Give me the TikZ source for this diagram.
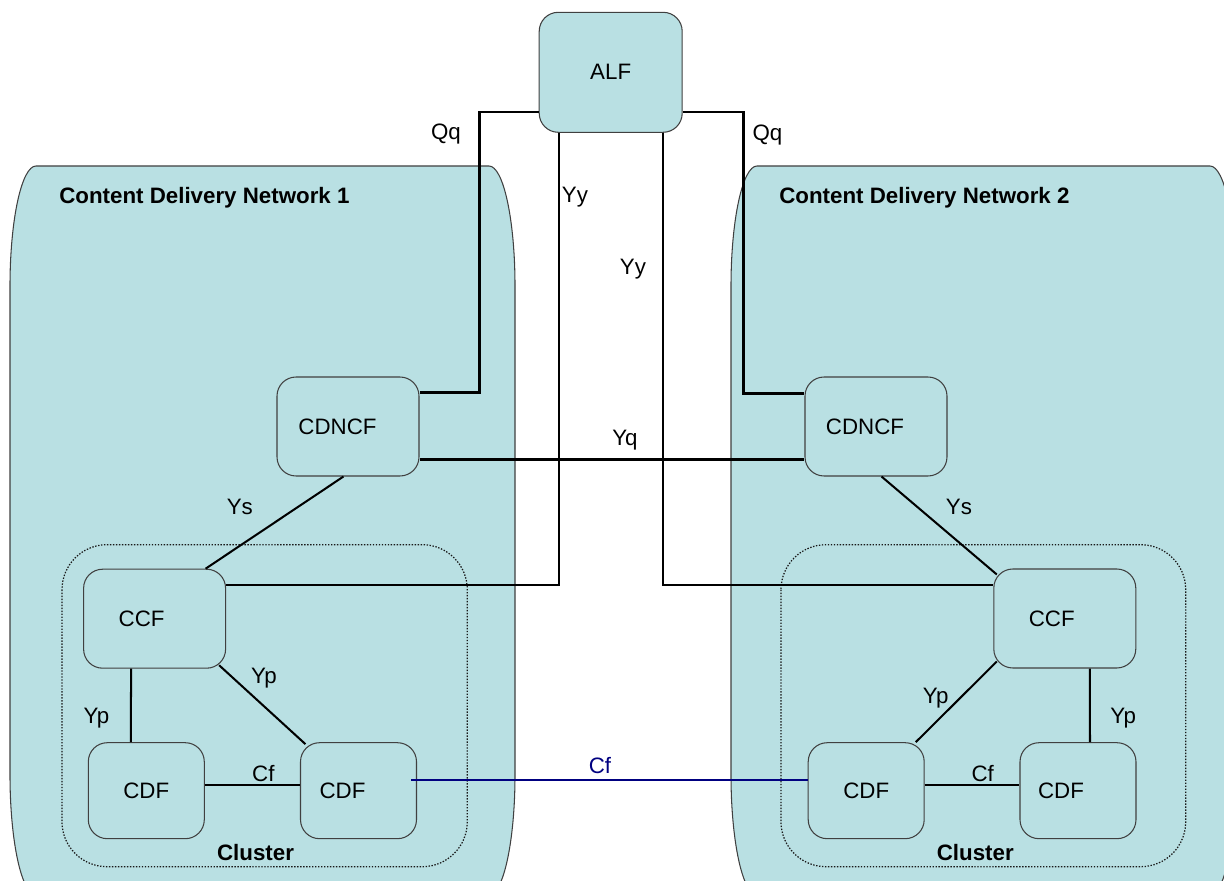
\documentclass[tikz,border=0pt]{standalone}
\usepackage{fontspec}
\setmainfont{Liberation Sans}
\definecolor{netfill}{RGB}{185,224,227}
\definecolor{cfblue}{RGB}{0,0,128}
\begin{document}
\begin{tikzpicture}[x=0.02cm,y=-0.02cm,
  every node/.style={font=\fontsize{12.7}{15}\selectfont},
  fn node/.style={draw=black!75,fill=netfill,rounded corners=0.38cm,line width=0.6pt,inner sep=0pt},
  ctrl node/.style={fn node,minimum width=2.84cm,minimum height=1.98cm},
  cdf node/.style={fn node,minimum width=2.32cm,minimum height=1.92cm},
  title node/.style={font=\fontsize{12.7}{15}\selectfont\bfseries,anchor=west,inner xsep=0pt},
  net/.style={draw=black!75,fill=netfill,line width=0.6pt},
  cluster/.style={draw=black!90,line width=0.7pt,dash pattern=on 0.8pt off 0.9pt,rounded corners=0.9cm},
  link/.style={line width=1.15pt}]
  \useasboundingbox (0,0) rectangle (1224,881);
  % the two networks
  \path[net] (10,286) -- (10,775) .. controls (10,841) and (21.6,895) .. (36,895)
    -- (489,895) .. controls (503.4,895) and (515,841) .. (515,775)
    -- (515,286) .. controls (515,220) and (503.4,166) .. (489,166)
    -- (36,166) .. controls (21.6,166) and (10,220) .. cycle;
  \path[net] (731,286) -- (731,775) .. controls (731,841) and (742.6,895) .. (757,895)
    -- (1210,895) .. controls (1224.4,895) and (1236,841) .. (1236,775)
    -- (1236,286) .. controls (1236,220) and (1224.4,166) .. (1210,166)
    -- (757,166) .. controls (742.6,166) and (731,220) .. cycle;
  \node[title node] (netA) at (59,198) {Content Delivery Network 1};
  \node[title node] (netB) at (779,198) {Content Delivery Network 2};
  % clusters
  \draw[cluster] (62,544.7) rectangle (467.3,866.7);
  \draw[cluster] (781,544.7) rectangle (1185.7,866.7);
  \node[title node,anchor=center] (clA) at (255.5,852.3) {Cluster};
  \node[title node,anchor=center] (clB) at (975.3,852.3) {Cluster};
  % function boxes
  \node[fn node,minimum width=2.86cm,minimum height=2.4cm] (alf) at (610.7,72.3) {ALF};
  \node[ctrl node,label={[xshift=-0.21cm]center:CDNCF}] (cdncfA) at (348,426.5) {};
  \node[ctrl node,label={[xshift=-0.22cm]center:CDNCF}] (cdncfB) at (876,426.5) {};
  \node[ctrl node,label={[xshift=-0.26cm]center:CCF}] (ccfA) at (154.6,618.7) {};
  \node[ctrl node,label={[xshift=-0.26cm]center:CCF}] (ccfB) at (1064.8,618.5) {};
  \node[cdf node] (cdfAa) at (146.3,790.7) {CDF};
  \node[cdf node,label={[xshift=-0.32cm]center:CDF}] (cdfAb) at (358.5,790.7) {};
  \node[cdf node] (cdfBa) at (866.2,790.7) {CDF};
  \node[cdf node,label={[xshift=-0.34cm]center:CDF}] (cdfBb) at (1078,790.7) {};
  % reference points
  \draw[link] ([yshift=-0.79cm]alf.west) -| ([xshift=1.2cm,yshift=0.68cm]cdncfA.east) -- ([yshift=0.68cm]cdncfA.east);
  \draw[link] ([yshift=-0.79cm]alf.east) -| ([xshift=-1.22cm,yshift=0.66cm]cdncfB.west) -- ([yshift=0.66cm]cdncfB.west);
  \draw[link] ([xshift=-1.04cm]alf.south) |- ([yshift=0.67cm]ccfA.east);
  \draw[link] ([xshift=1.04cm]alf.south) |- ([yshift=0.67cm]ccfB.west);
  \draw[link] ([yshift=-0.66cm]cdncfA.east) -- ([yshift=-0.66cm]cdncfB.west);
  \draw[link] ([xshift=-0.09cm]cdncfA.south) -- ([xshift=1.02cm]ccfA.north);
  \draw[link] ([xshift=0.11cm]cdncfB.south) -- ([xshift=0.07cm,yshift=-0.12cm]ccfB.north west);
  \draw[link] ([xshift=-0.14cm,yshift=0.07cm]ccfA.south east) -- ([xshift=0.11cm,yshift=-0.04cm]cdfAb.north west);
  \draw[link] ([xshift=-0.47cm]ccfA.south) -- ([xshift=-0.31cm]cdfAa.north);
  \draw[link] ([xshift=0.07cm,yshift=0.14cm]ccfB.south west) -- ([xshift=-0.18cm]cdfBa.north east);
  \draw[link] ([xshift=0.5cm]ccfB.south) -- ([xshift=0.24cm]cdfBb.north);
  \draw[link] ([yshift=0.11cm]cdfAa.east) -- ([yshift=0.11cm]cdfAb.west);
  \draw[link] ([yshift=0.11cm]cdfBa.east) -- ([yshift=0.11cm]cdfBb.west);
  \draw[link,cfblue] ([xshift=-0.12cm,yshift=0.21cm]cdfAb.east) -- ([yshift=0.21cm]cdfBa.west);
  % labels
  \node (qqA) at (446,134) {Qq};
  \node (qqB) at (767.5,135) {Qq};
  \node (yyA) at (575,197) {Yy};
  \node (yyB) at (633,269) {Yy};
  \node (yq) at (625,440) {Yq};
  \node (ysA) at (239.8,506.7) {Ys};
  \node (ysB) at (959,506.7) {Ys};
  \node (ypAd) at (264,678.3) {Yp};
  \node (ypAv) at (96.4,717.7) {Yp};
  \node (ypBd) at (935.7,698.3) {Yp};
  \node (ypBv) at (1123.3,717.7) {Yp};
  \node (cfA) at (263.4,773.3) {Cf};
  \node (cfB) at (982.7,773.3) {Cf};
  \node[text=cfblue] (cfX) at (600,766) {Cf};
\end{tikzpicture}
\end{document}
